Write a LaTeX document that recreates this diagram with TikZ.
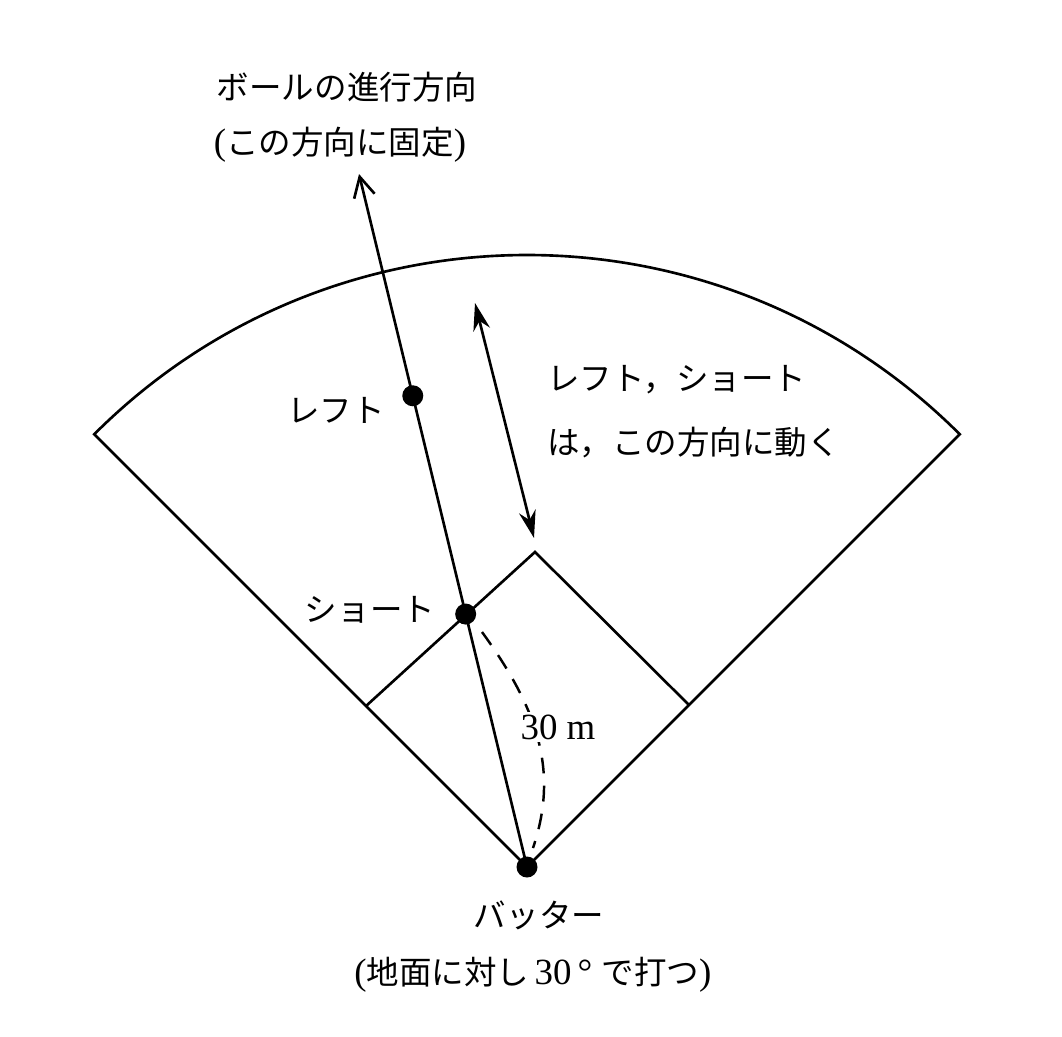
\documentclass[tikz,border=0pt]{standalone}
\usepackage{fontspec}
\setmainfont{Liberation Serif}
\newfontfamily\cjk{Noto Sans CJK JP}
\usetikzlibrary{arrows.meta,calc}
\newcommand{\numtxt}[1]{{\fontsize{21}{24}\selectfont #1}}
\begin{document}
\begin{tikzpicture}[x=0.02cm,y=-0.02cm,line width=1.5pt,
  lbl/.style={font=\fontsize{18.5}{22}\selectfont,inner sep=0pt},
  dot/.style={circle,fill=black,inner sep=0pt,minimum size=0.42cm},
  fieldline/.style={line width=1.5pt,line join=miter},
  dashcurve/.style={line width=1.4pt,dash pattern=on 9pt off 7pt},
  movearrow/.style={{Stealth[length=5.5mm,width=3.4mm,inset=1.8mm]}-{Stealth[length=5.5mm,width=3.4mm,inset=1.8mm]}},
  ballarrow/.style={-{Straight Barb[length=4mm,width=4.2mm]}}
]
\useasboundingbox (0,0) rectangle (1062,1036);

\coordinate (bat) at (527,867);
\coordinate (tip) at (359,174);
\coordinate (dl) at (366,706);
\coordinate (dt) at (535,552);
\coordinate (dr) at (689,705);
\coordinate (ma) at (475,303);
\coordinate (mb) at (534,538);
\coordinate (cs) at (482,632);
\coordinate (ce) at (533,848);

% field
\draw[fieldline] (bat) -- ++(225:612) arc[start angle=225,end angle=315,radius=612] -- (bat);
% infield
\draw[fieldline] (dl) -- (dt) -- (dr);
% ball direction
\draw[ballarrow] (bat) -- (tip);
% moving direction
\draw[movearrow] (ma) -- (mb);
% dashed distance
\draw[dashcurve] (cs) .. controls (538,709) and (559,771) .. (ce);
\node[lbl,fill=white,inner sep=1.5pt] (dist) at (558,727) {\numtxt{30 m}};

% players
\node[dot] (ss) at ($(bat)!0.365!(tip)$) {};
\node[dot] (lf) at ($(bat)!0.68!(tip)$) {};
\node[dot] (bt) at (bat) {};

% labels
\node[lbl] (t1) at (347,87) {\cjk ボールの進行方向};
\node[lbl] (t2) at (340,145) {\numtxt{(}{\cjk この方向に固定}\numtxt{)}};
\node[lbl] (tlf) at (336,410) {\cjk レフト};
\node[lbl] (tss) at (370,610) {\cjk ショート};
\node[lbl,anchor=west] (tm1) at (546,380) {\cjk レフト，ショート};
\node[lbl,anchor=west] (tm2) at (546,443) {\cjk は，この方向に動く};
\node[lbl] (tb1) at (539,915) {\cjk バッター};
\node[lbl] (tb2) at (533,975) {\numtxt{(}{\cjk 地面に対し}\,\numtxt{30\,°\ }{\cjk で打つ}\numtxt{)}};
\end{tikzpicture}
\end{document}
